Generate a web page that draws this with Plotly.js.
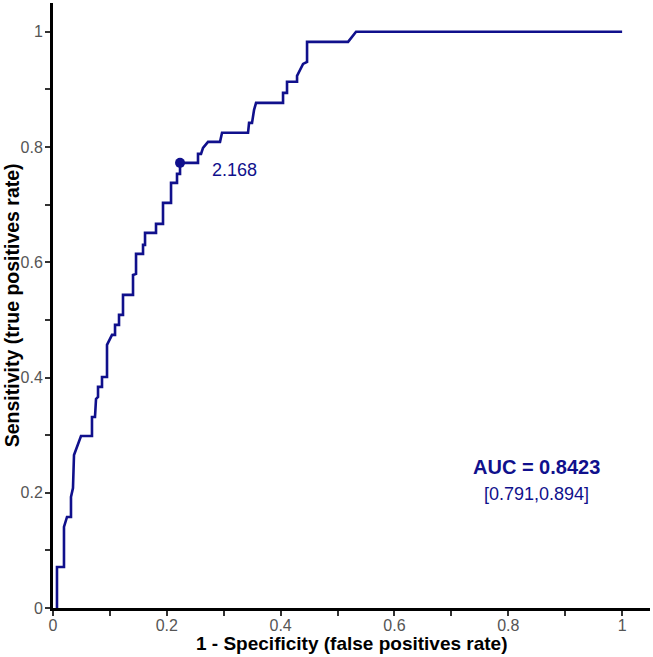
<!DOCTYPE html>
<html>
<head>
<meta charset="utf-8">
<script src="https://cdn.plot.ly/plotly-3.0.1.min.js"></script>
<style>html,body{margin:0;padding:0;background:#fff;}#chart{width:653px;height:657px;}</style>
</head>
<body>
<div id="chart"></div>
<script>
// ROC curve points (1 - specificity, sensitivity)
var fpr = [0.0070,0.0070,0.0193,0.0193,0.0246,0.0316,0.0316,0.0351,0.0369,0.0492,0.0685,0.0685,0.0738,0.0756,0.0791,0.0791,0.0861,0.0861,0.0949,0.0949,0.1037,0.1090,0.1090,0.1160,0.1160,0.1230,0.1230,0.1406,0.1406,0.1459,0.1459,0.1582,0.1582,0.1617,0.1617,0.1810,0.1810,0.1933,0.1933,0.2074,0.2074,0.2179,0.2179,0.2232,0.2232,0.2548,0.2548,0.2601,0.2636,0.2724,0.2935,0.2970,0.3427,0.3445,0.3497,0.3533,0.3568,0.4042,0.4042,0.4112,0.4112,0.4288,0.4288,0.4394,0.4464,0.4464,0.5185,0.5325,1.0];
var tpr = [0,0.0712,0.0712,0.1406,0.1580,0.1580,0.1927,0.2083,0.2656,0.2986,0.2986,0.3316,0.3316,0.3628,0.3663,0.3837,0.3837,0.4010,0.4010,0.4566,0.4740,0.4740,0.4913,0.4913,0.5087,0.5087,0.5434,0.5434,0.5781,0.5799,0.6146,0.6146,0.6302,0.6302,0.6510,0.6510,0.6667,0.6667,0.7031,0.7031,0.7378,0.7378,0.7535,0.7535,0.7726,0.7726,0.7882,0.7882,0.7986,0.8090,0.8090,0.8247,0.8247,0.8420,0.8420,0.8646,0.8767,0.8767,0.8941,0.8941,0.9132,0.9132,0.9236,0.9444,0.9479,0.9826,0.9826,1.0,1.0];
// best threshold point
var bestX = [0.2232];
var bestY = [0.7726];
var bestLabel = ["2.168"];
var aucText = "AUC = 0.8423";
var ciText = "[0.791,0.894]";
var xTitle = "1 - Specificity (false positives rate)";
var yTitle = "Sensitivity (true positives rate)";
var tickVals = [0,0.1,0.2,0.3,0.4,0.5,0.6,0.7,0.8,0.9,1];
var tickText = ["0","","0.2","","0.4","","0.6","","0.8","","1"];

var navy = "#10108c";
var fam = "Liberation Sans, Arial, sans-serif";
var traces = [
  {x: fpr, y: tpr, type: "scatter", mode: "lines", line: {color: navy, width: 2.6}, hoverinfo: "skip"},
  {x: bestX, y: bestY, type: "scatter", mode: "markers", marker: {color: navy, size: 10}, hoverinfo: "skip"}
];
var axisCommon = {
  showline: true, linecolor: "#000", linewidth: 3, mirror: false,
  ticks: "outside", ticklen: 5, tickwidth: 2, tickcolor: "#333",
  tickvals: tickVals, ticktext: tickText,
  tickfont: {family: fam, size: 16, color: "#555"},
  showgrid: false, zeroline: false, fixedrange: true
};
var layout = {
  width: 653, height: 657,
  margin: {l: 53, r: 3, t: 3, b: 49},
  paper_bgcolor: "#fff", plot_bgcolor: "#fff",
  showlegend: false,
  xaxis: Object.assign({}, axisCommon, {range: [0, 1.049], ticklabelstandoff: -4}),
  yaxis: Object.assign({}, axisCommon, {range: [0, 1.05], ticklabelstandoff: -1}),
  annotations: [
    {x: 0.5, y: -0.059, xref: "paper", yref: "paper", text: "<b>" + xTitle + "</b>", showarrow: false,
     xanchor: "center", yanchor: "middle", font: {family: fam, size: 19, color: "#000"}},
    {x: -0.069, y: 0.5, xref: "paper", yref: "paper", text: "<b>" + yTitle + "</b>", showarrow: false, textangle: -90,
     xanchor: "center", yanchor: "middle", font: {family: fam, size: 19.5, color: "#000"}},
    {x: bestX[0] + 0.0535, y: bestY[0] - 0.012, xref: "x", yref: "y", text: bestLabel[0], showarrow: false,
     xanchor: "left", yanchor: "middle", font: {family: fam, size: 18, color: navy}},
    {x: 0.849, y: 0.245, xref: "x", yref: "y", text: "<b>" + aucText + "</b>", showarrow: false,
     xanchor: "center", yanchor: "middle", font: {family: fam, size: 20, color: navy}},
    {x: 0.849, y: 0.198, xref: "x", yref: "y", text: ciText, showarrow: false,
     xanchor: "center", yanchor: "middle", font: {family: fam, size: 18, color: navy}}
  ]
};
Plotly.newPlot("chart", traces, layout, {displayModeBar: false, staticPlot: true});
</script>
</body>
</html>
